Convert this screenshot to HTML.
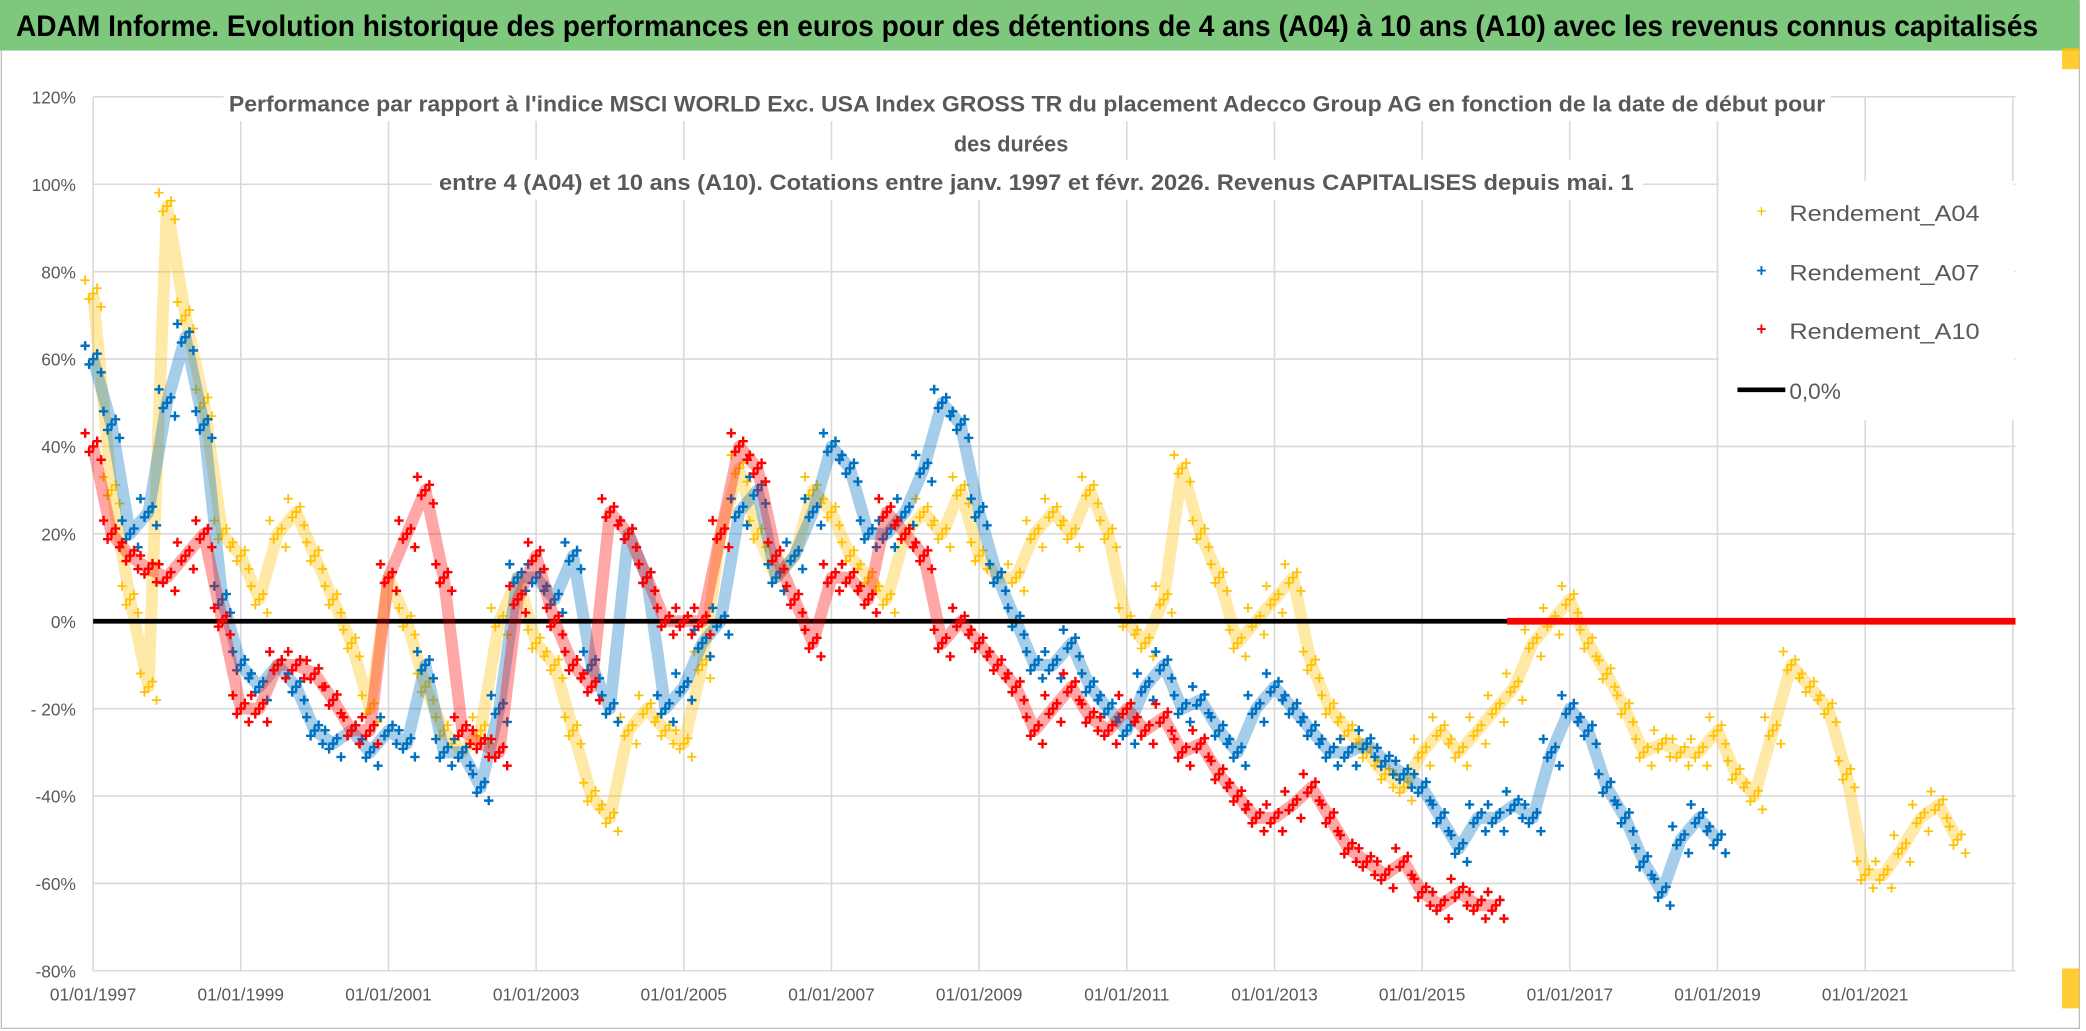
<!DOCTYPE html>
<html><head><meta charset="utf-8"><style>
html,body{margin:0;padding:0;background:#fff;}
svg{display:block;}
</style></head><body>
<svg id="chart" xmlns="http://www.w3.org/2000/svg" width="2086" height="1031" viewBox="0 0 1568 775" preserveAspectRatio="none" font-family="'Liberation Sans', sans-serif">
<rect x="0" y="0" width="1568" height="775" fill="#fff"/>
<rect x="1" y="1" width="1562" height="772" fill="none" stroke="#bfbfbf" stroke-width="1"/>
<rect x="0" y="0" width="1563" height="38" fill="#7dc87c"/>
<text x="12" y="27" font-size="22" font-weight="bold" fill="#000" textLength="1520" lengthAdjust="spacingAndGlyphs">ADAM Informe. Evolution historique des performances en euros pour des détentions de 4 ans (A04) à 10 ans (A10) avec les revenus connus capitalisés</text>
<g id="grid"></g>
<g id="ylabels"></g>
<g id="xlabels"></g>
<g id="titlebg">
<rect x="168" y="61" width="1208" height="30" fill="#fff"/>
<rect x="695" y="91" width="130" height="30" fill="#fff"/>
<rect x="325" y="120" width="910" height="30" fill="#fff"/>
</g>
<text x="172" y="84" font-size="17" font-weight="bold" fill="#595959" textLength="1200" lengthAdjust="spacingAndGlyphs">Performance par rapport à l'indice MSCI WORLD Exc. USA Index GROSS TR  du placement Adecco Group AG en fonction de la date de début pour</text>
<text x="760" y="114" font-size="17" font-weight="bold" fill="#595959" text-anchor="middle" textLength="86" lengthAdjust="spacingAndGlyphs">des durées</text>
<text x="330" y="143" font-size="17" font-weight="bold" fill="#595959" textLength="898" lengthAdjust="spacingAndGlyphs">entre 4 (A04) et 10 ans (A10). Cotations entre janv. 1997 et févr. 2026. Revenus CAPITALISES depuis mai. 1</text>
<g id="series"></g>
<g id="legend">
<rect x="1292" y="136" width="222" height="180" fill="#fff"/>
<text x="1324" y="163" font-size="13" fill="#ffc000" text-anchor="middle">+</text>
<text x="1345" y="166" font-size="17" fill="#595959" textLength="143" lengthAdjust="spacingAndGlyphs">Rendement_A04</text>
<text x="1324" y="208" font-size="13" fill="#0070c0" font-weight="bold" text-anchor="middle">+</text>
<text x="1345" y="211" font-size="17" fill="#595959" textLength="143" lengthAdjust="spacingAndGlyphs">Rendement_A07</text>
<text x="1324" y="252" font-size="13" fill="#ff0000" font-weight="bold" text-anchor="middle">+</text>
<text x="1345" y="255" font-size="17" fill="#595959" textLength="143" lengthAdjust="spacingAndGlyphs">Rendement_A10</text>
<line x1="1306" y1="293" x2="1342" y2="293" stroke="#000" stroke-width="3.5"/>
<text x="1345" y="300" font-size="17" fill="#595959">0,0%</text>
</g>
<rect x="1550" y="36" width="13" height="16" fill="#ffc000" opacity="0.8"/>
<rect x="1550" y="728" width="13" height="30" fill="#ffc000" opacity="0.8"/>
</svg>
<script>
// ---- data ----
const yTicks = [120, 100, 80, 60, 40, 20, 0, -20, -40, -60, -80];
const yTickLabels = ["120%", "100%", "80%", "60%", "40%", "20%", "0%", "- 20%", "-40%", "-60%", "-80%"];
const xTickYears = [1997, 1999, 2001, 2003, 2005, 2007, 2009, 2011, 2013, 2015, 2017, 2019, 2021, 2023];
const xTickLabels = ["01/01/1997","01/01/1999","01/01/2001","01/01/2003","01/01/2005","01/01/2007","01/01/2009","01/01/2011","01/01/2013","01/01/2015","01/01/2017","01/01/2019","01/01/2021",""];
const a04Values = [75,30,5,-15,95,70,50,20,15,5,20,25,15,5,-5,-20,10,0,-15,-25,-30,-25,0,10,-5,-10,-25,-40,-45,-25,-20,-25,-28,-10,20,35,20,10,15,30,25,15,10,5,20,25,20,30,15,10,10,20,25,20,30,20,0,-5,5,35,20,10,-5,0,5,10,-10,-20,-25,-30,-35,-38,-30,-25,-30,-25,-20,-15,-5,0,5,-5,-12,-20,-30,-28,-30,-30,-25,-35,-40,-25,-10,-15,-20,-35,-58,-58,-52,-45,-42,-50];
const a07Values = [60,45,20,25,50,65,45,5,-10,-15,-10,-15,-25,-28,-25,-30,-25,-28,-10,-30,-30,-38,-20,10,10,5,15,-10,-20,20,10,-20,-15,-5,0,25,30,10,15,25,40,35,20,20,25,35,50,45,25,10,0,-10,-10,-5,-15,-20,-25,-15,-10,-20,-18,-25,-30,-20,-15,-20,-25,-30,-30,-28,-32,-35,-38,-45,-52,-45,-45,-42,-45,-30,-20,-25,-38,-45,-55,-62,-50,-45,-50];
const a10Values = [40,20,15,12,10,15,20,0,-20,-20,-10,-10,-12,-18,-25,-25,10,20,30,10,-25,-28,-30,5,15,0,-10,-15,25,20,10,0,0,0,20,40,35,15,5,-5,10,10,5,25,20,15,-5,0,-5,-10,-15,-25,-20,-15,-22,-25,-20,-25,-22,-30,-28,-35,-40,-45,-45,-42,-38,-45,-52,-55,-58,-55,-62,-65,-62,-65,-65];
const seriesStartYear = 1997;
const seriesStep = 0.25;
const a10ZeroBand = [2016.15, 2023.05];
const zeroLineValue = 0;

// ---- axes ----
const X0 = 70, PX_PER_YEAR = 55.5, Y0 = 467, PX_PER_PCT = 65.7/20;
const PLOT_L = 70, PLOT_R = 1515;
function xScale(year){ return X0 + (year - 1997) * PX_PER_YEAR; }
function yScale(v){ return Y0 - v * PX_PER_PCT; }
const NS = "http://www.w3.org/2000/svg";
function mk(tag, attrs, parent){ const e = document.createElementNS(NS, tag); for (const k in attrs) e.setAttribute(k, attrs[k]); parent.appendChild(e); return e; }

const grid = document.getElementById('grid');
yTicks.forEach((t, i) => {
  const l = mk('line', {x1: PLOT_L, x2: PLOT_R, y1: yScale(t), y2: yScale(t), stroke: '#d9d9d9', 'stroke-width': 1.2}, grid);
  
  
  const tx = mk('text', {x: 57, y: yScale(t) + 5, 'font-size': 13, fill: '#595959', 'text-anchor': 'end'}, document.getElementById('ylabels'));
  tx.textContent = yTickLabels[i];
  
  
});
xTickYears.forEach((yr, i) => {
  const x = xScale(yr) > PLOT_R ? PLOT_R : xScale(yr);
  const l = mk('line', {x1: x, x2: x, y1: yScale(120), y2: yScale(-80), stroke: '#d9d9d9', 'stroke-width': 1.2}, grid);
  
  
  if (xTickLabels[i]) {
    const tx = mk('text', {x: x, y: 752, 'font-size': 13, fill: '#595959', 'text-anchor': 'middle'}, document.getElementById('xlabels'));
    tx.textContent = xTickLabels[i];
    
    
  }
});

// ---- series ----
const layer = document.getElementById('series');
function drawSeries(values, color, name, sw){
  const g = mk('g', {}, layer);
  
  
  const pts = values.map((v, i) => [xScale(seriesStartYear + i * seriesStep), yScale(v)]);
  const pl = mk('polyline', {points: pts.map(p => p.join(',')).join(' '), fill: 'none', stroke: color, 'stroke-width': 9, 'stroke-linejoin': 'round', opacity: 0.35}, g);
  
  
  pts.forEach(p => {
    for (let k = -2; k <= 2; k++) {
      const cx = p[0] + k * 3, cy = p[1] + ((k % 2) ? -k * 4 : k * 5);
      const m = mk('path', {d: `M${cx-3.5},${cy}H${cx+3.5}M${cx},${cy-3.5}V${cy+3.5}`, stroke: color, 'stroke-width': sw, fill: 'none'}, g);
      
      
    }
  });
}
drawSeries(a04Values, '#ffc000', 'series-a04', 1.3);
drawSeries(a07Values, '#0070c0', 'series-a07', 1.8);
const zl = mk('line', {x1: PLOT_L, x2: PLOT_R, y1: yScale(zeroLineValue), y2: yScale(zeroLineValue), stroke: '#000', 'stroke-width': 3.5}, layer);


drawSeries(a10Values, '#ff0000', 'series-a10', 1.8);
const zb = mk('line', {x1: xScale(a10ZeroBand[0]), x2: Math.min(PLOT_R, xScale(a10ZeroBand[1])), y1: yScale(0), y2: yScale(0), stroke: '#ff0000', 'stroke-width': 5}, layer);


</script>
</body></html>
